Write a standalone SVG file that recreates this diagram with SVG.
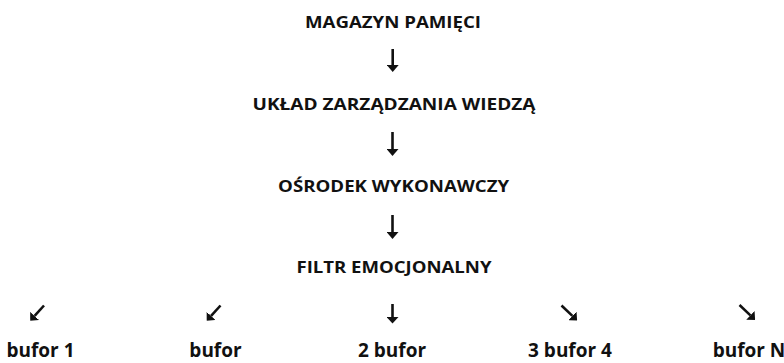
<svg xmlns="http://www.w3.org/2000/svg" width="784" height="363" viewBox="0 0 784 363">
  <style>
    .cap { font-family: "Open Sans", "Noto Sans", "DejaVu Sans", sans-serif; font-weight: 700; font-size: 16px; fill: #111; text-anchor: middle; }
    .buf { font-family: "Open Sans", "Noto Sans", "DejaVu Sans", sans-serif; font-weight: 700; font-size: 19px; fill: #111; text-anchor: middle; }
    .big { stroke: #111; stroke-width: 2.6; fill: none; marker-end: url(#headBig); }
    .small { stroke: #111; stroke-width: 2.6; fill: none; marker-end: url(#headSmall); }
  </style>
  <defs>
    <marker id="headBig" markerUnits="userSpaceOnUse" viewBox="0 0 7 12" refX="0" refY="6" markerWidth="7" markerHeight="12" orient="auto">
      <path d="M0,0 L7,6 L0,12 Z" fill="#111"/>
    </marker>
    <marker id="headSmall" markerUnits="userSpaceOnUse" viewBox="0 0 6.5 12" refX="0" refY="6" markerWidth="6.5" markerHeight="12" orient="auto">
      <path d="M0,0 L6.5,6 L0,12 Z" fill="#111"/>
    </marker>
  </defs>
  <rect width="784" height="363" fill="#ffffff"/>

  <g id="magazyn"><text class="cap" x="393" y="28" textLength="176" lengthAdjust="spacingAndGlyphs">MAGAZYN PAMIĘCI</text></g>
  <g id="uklad"><text class="cap" x="394" y="109.5" textLength="283" lengthAdjust="spacingAndGlyphs">UKŁAD ZARZĄDZANIA WIEDZĄ</text></g>
  <g id="osrodek"><text class="cap" x="393.6" y="191.7" textLength="231" lengthAdjust="spacingAndGlyphs">OŚRODEK WYKONAWCZY</text></g>
  <g id="filtr"><text class="cap" x="394" y="273.3" textLength="195" lengthAdjust="spacingAndGlyphs">FILTR EMOCJONALNY</text></g>

  <g id="bufor1"><text class="buf" x="40.5" y="357">bufor 1</text></g>
  <g id="bufor"><text class="buf" x="215.5" y="357">bufor</text></g>
  <g id="bufor2"><text class="buf" x="392" y="357">2 bufor</text></g>
  <g id="bufor34"><text class="buf" x="570" y="357">3 bufor 4</text></g>
  <g id="buforN"><text class="buf" x="749" y="357">bufor N</text></g>

  <g id="connectors">
    <path class="big" d="M392.7,49 L392.7,65"/>
    <path class="big" d="M392.5,132 L392.5,149"/>
    <path class="big" d="M392.5,215 L392.5,232"/>
    <path class="small" d="M392.5,304 L392.5,317"/>
    <path class="small" d="M44,305.5 L34.6,315.9"/>
    <path class="small" d="M220.5,305.5 L211.1,315.9"/>
    <path class="small" d="M561.5,305.5 L572.4,315.9"/>
    <path class="small" d="M739.5,305 L750.4,315.4"/>
  </g>
</svg>
